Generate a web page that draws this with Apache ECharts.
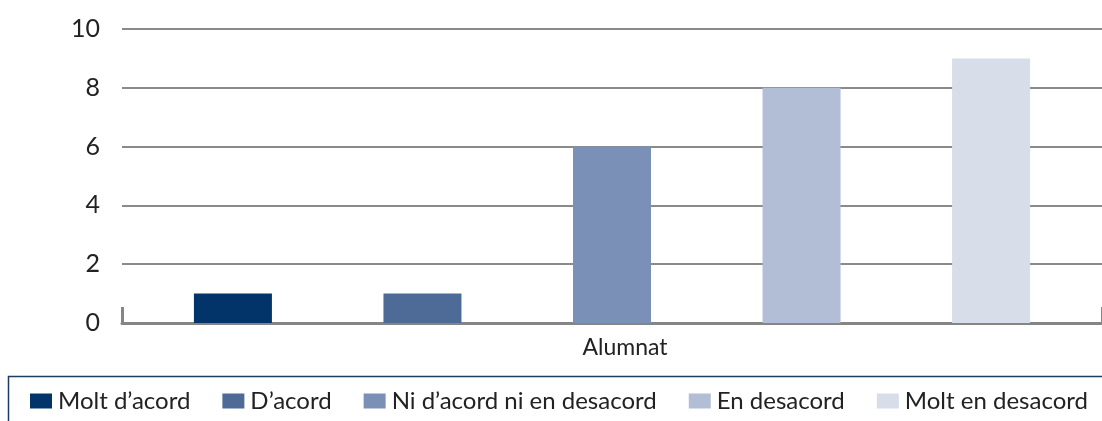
<!DOCTYPE html>
<html>
<head>
<meta charset="utf-8">
<script src="https://cdn.jsdelivr.net/npm/echarts@6/dist/echarts.min.js"></script>
<style>
  html, body { margin: 0; padding: 0; background: #fff; }
  #chart { width: 1102px; height: 421px; }
</style>
</head>
<body>
<div id="chart"></div>
<script>
  // dades
  var categories = ['Alumnat'];
  var seriesNames = ['Molt d\u2019acord', 'D\u2019acord', 'Ni d\u2019acord ni en desacord', 'En desacord', 'Molt en desacord'];
  var seriesValues = [[1], [1], [6], [8], [9]];
  var seriesColors = ['#02346a', '#4e6a96', '#7b90b6', '#b2bdd6', '#d7dde9'];

  var fontFam = 'Lato, "Open Sans", sans-serif';
  var chart = echarts.init(document.getElementById('chart'));

  var series = seriesNames.map(function (name, i) {
    return {
      name: name,
      type: 'bar',
      data: seriesValues[i],
      barWidth: 78,
      barGap: '143%',
      itemStyle: { color: seriesColors[i] }
    };
  });

  chart.setOption({
    animation: false,
    grid: { left: 122, right: -3, top: 29, bottom: 98 },
    legend: {
      data: seriesNames,
      left: 25,
      top: 384,
      itemWidth: 22,
      itemHeight: 15,
      itemGap: 32,
      icon: 'rect',
      textStyle: { fontSize: 24, color: '#222', fontFamily: fontFam, padding: [0, 0, 0, 1] }
    },
    graphic: [{
      type: 'rect',
      shape: { x: 8.5, y: 376.5, width: 1200, height: 100 },
      style: { fill: 'none', stroke: '#1f3a64', lineWidth: 1.5 },
      silent: true
    }],
    xAxis: {
      type: 'category',
      data: categories,
      axisLine: { lineStyle: { color: '#858585', width: 3 } },
      axisTick: { show: true, inside: true, length: 16, lineStyle: { color: '#858585', width: 3 } },
      axisLabel: { fontSize: 23, color: '#222', fontFamily: fontFam, margin: 13, padding: [0, 0, 0, 26] }
    },
    yAxis: {
      type: 'value',
      min: 0,
      max: 10,
      interval: 2,
      axisLine: { show: false },
      axisTick: { show: false },
      axisLabel: { fontSize: 25, color: '#222', fontFamily: fontFam, margin: 22 },
      splitLine: { lineStyle: { color: '#8a8a8a', width: 2 } }
    },
    series: series
  });
</script>
</body>
</html>
